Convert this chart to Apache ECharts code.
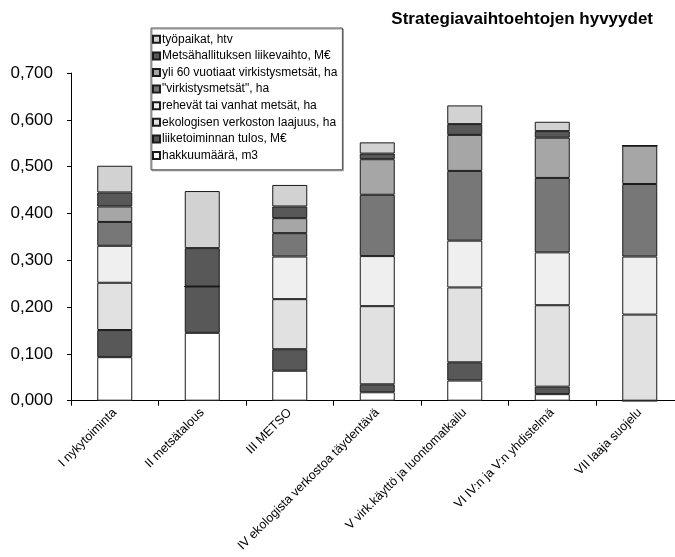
<!DOCTYPE html>
<html>
<head>
<meta charset="utf-8">
<script src="https://cdn.jsdelivr.net/npm/echarts@6/dist/echarts.min.js"></script>
<style>html,body{margin:0;padding:0;background:#fff}#c{width:675px;height:557px}</style>
</head>
<body>
<div id="c"></div>
<script>
const categories = ["I nykytoiminta", "II metsätalous", "III METSO", "IV ekologista verkostoa täydentävä", "V virk.käyttö ja luontomatkailu", "VI IV:n ja V:n yhdistelmä", "VII laaja suojelu"];
const yTicks = [0, 0.1, 0.2, 0.3, 0.4, 0.5, 0.6, 0.7];
// series in stacking order (bottom to top)
const hakkuumaara = [0.093, 0.145, 0.064, 0.018, 0.043, 0.014, 0];
const liiketoiminnanTulos = [0.058, 0.099, 0.046, 0.017, 0.039, 0.016, 0];
const ekologisenVerkosto = [0.101, 0, 0.107, 0.167, 0.160, 0.174, 0.184];
const rehevat = [0.079, 0, 0.091, 0.107, 0.100, 0.113, 0.124];
const virkistysmetsat = [0.051, 0, 0.050, 0.131, 0.149, 0.159, 0.155];
const yli60 = [0.033, 0, 0.032, 0.076, 0.077, 0.086, 0.082];
const liikevaihto = [0.030, 0.082, 0.025, 0.012, 0.023, 0.014, 0];
const tyopaikat = [0.057, 0.122, 0.046, 0.024, 0.040, 0.020, 0];

const seriesDefs = [
  ["hakkuumäärä, m3", hakkuumaara, "#ffffff"],
  ["liiketoiminnan tulos, M€", liiketoiminnanTulos, "#585858"],
  ["ekologisen verkoston laajuus, ha", ekologisenVerkosto, "#e1e1e1"],
  ["rehevät tai vanhat metsät, ha", rehevat, "#efefef"],
  ["\"virkistysmetsät\", ha", virkistysmetsat, "#777777"],
  ["yli 60 vuotiaat virkistysmetsät, ha", yli60, "#a6a6a6"],
  ["Metsähallituksen liikevaihto, M€", liikevaihto, "#585858"],
  ["työpaikat, htv", tyopaikat, "#d2d2d2"]
];

const chart = echarts.init(document.getElementById('c'));
const font = "'Liberation Sans', Arial, sans-serif";
chart.setOption({
  animation: false,
  backgroundColor: '#fff',
  title: {
    text: 'Strategiavaihtoehtojen hyvyydet',
    right: 22, top: 11, padding: 0,
    textStyle: { fontFamily: font, fontSize: 17, fontWeight: 'bold', color: '#000' }
  },
  legend: {
    orient: 'vertical',
    left: 151, top: 28,
    padding: [3, 5, 6, 1],
    icon: 'rect',
    itemWidth: 7, itemHeight: 7, itemGap: 0,
    backgroundColor: '#fff',
    borderColor: '#555', borderWidth: 1,
    shadowColor: '#999', shadowOffsetX: 1, shadowOffsetY: 1, shadowBlur: 0,
    data: seriesDefs.map(s => s[0]).reverse(),
    textStyle: { fontFamily: font, fontSize: 12, color: '#000', lineHeight: 16.6, padding: [0, 0, 0, -3] }
  },
  grid: { left: 71, top: 73.1, width: 612.5, height: 327.6, containLabel: false, outerBoundsMode: 'none' },
  xAxis: {
    type: 'category',
    data: categories,
    axisLine: { lineStyle: { color: '#000', width: 1 } },
    axisTick: { show: true, length: 5, lineStyle: { color: '#000' } },
    axisLabel: { rotate: 45, interval: 0, margin: 10, fontFamily: font, fontSize: 12.5, color: '#000' }
  },
  yAxis: {
    type: 'value',
    min: yTicks[0], max: yTicks[yTicks.length - 1], interval: 0.1,
    splitLine: { show: false },
    axisLine: { show: true, lineStyle: { color: '#000', width: 1 } },
    axisTick: { show: true, length: 4, lineStyle: { color: '#000' } },
    axisLabel: { margin: 18, fontFamily: font, fontSize: 17, color: '#000',
      formatter: v => v.toFixed(3).replace('.', ',') }
  },
  series: seriesDefs.map(s => ({
    name: s[0], type: 'bar', stack: 'total', data: s[1], barWidth: 35,
    itemStyle: { color: s[2], borderColor: '#1a1a1a', borderWidth: 1 }
  }))
});
</script>
</body>
</html>
